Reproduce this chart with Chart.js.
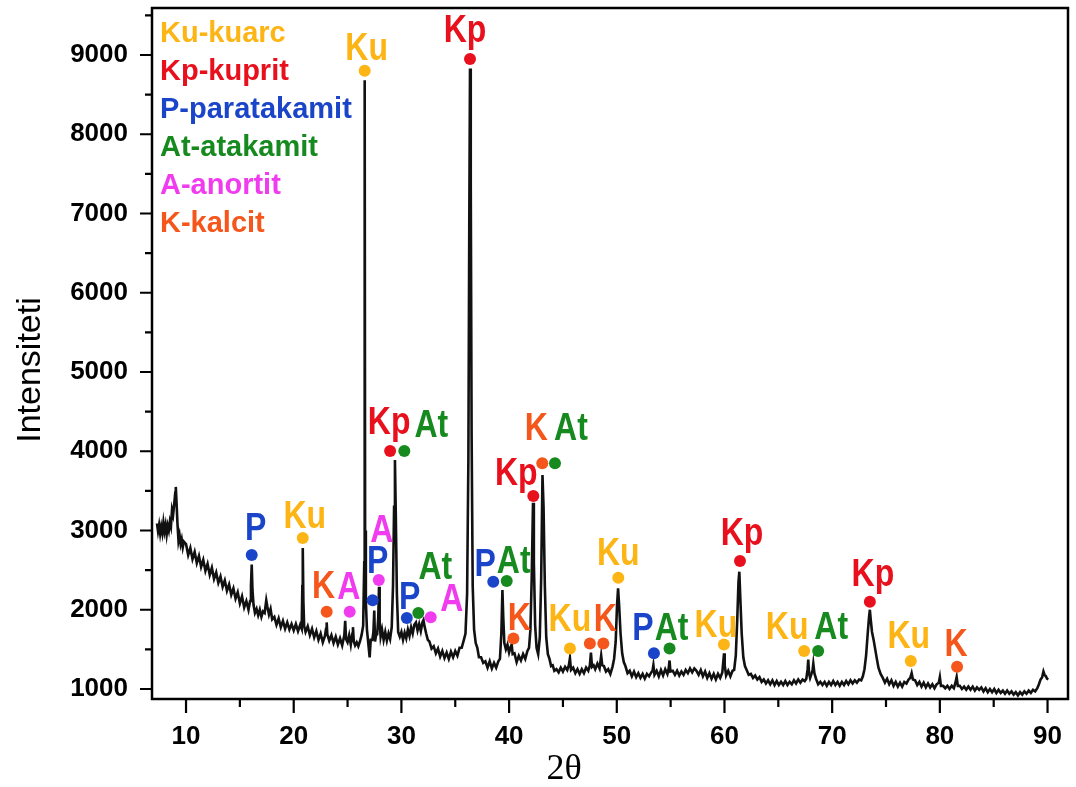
<!DOCTYPE html>
<html>
<head>
<meta charset="utf-8">
<script src="https://cdn.jsdelivr.net/npm/chart.js@4.4.1/dist/chart.umd.min.js"></script>
<style>
  html, body { margin: 0; padding: 0; background: #fff; }
  #wrap { width: 1076px; height: 787px; }
</style>
</head>
<body>
<div id="wrap"><canvas id="xrd" width="1076" height="787"></canvas></div>
<script>
// measured pattern: [2theta, intensity]
const scan = [
  [7.3,3090],[7.4,2990],[7.5,3070],[7.6,2960],[7.7,3050],[7.8,2970],[7.9,3100],[8.0,2990],[8.1,3070],[8.2,2950],
  [8.3,3060],[8.4,3000],[8.5,3110],[8.6,3050],[8.7,3260],[8.8,3200],[8.9,3330],[9.0,3480],[9.05,3550],[9.12,3350],
  [9.2,3100],[9.3,2870],[9.4,2940],[9.5,2830],[9.6,2890],[9.7,2790],[9.8,2860],
  [10.0,2830],[10.2,2690],[10.4,2780],[10.6,2640],[10.8,2730],[11.0,2590],[11.2,2680],[11.4,2540],[11.6,2630],
  [11.8,2490],[12.0,2580],[12.2,2440],[12.4,2530],[12.6,2390],[12.8,2470],[13.0,2340],[13.2,2420],[13.4,2290],
  [13.6,2370],[13.8,2240],[14.0,2320],[14.2,2190],[14.4,2270],[14.6,2140],[14.8,2220],[15.0,2080],[15.2,2170],
  [15.4,2030],[15.6,2110],[15.8,2000],[15.95,2110],[16.03,2300],[16.1,2570],[16.17,2250],[16.27,2060],[16.4,1960],
  [16.55,2010],[16.7,1930],[16.85,2000],[17.0,1910],[17.15,1980],[17.3,1960],[17.45,2120],[17.55,2040],[17.7,1940],
  [17.85,2010],[18.0,1880],[18.2,1910],[18.4,1810],[18.6,1890],[18.8,1780],[19.0,1860],[19.2,1760],[19.4,1840],
  [19.6,1750],[19.8,1820],[20.0,1740],[20.2,1820],[20.4,1730],[20.6,1810],[20.74,1760],[20.8,2300],[20.84,2780],
  [20.9,2100],[20.97,1790],[21.1,1720],[21.3,1790],[21.5,1680],[21.7,1760],[21.9,1650],[22.1,1730],[22.3,1620],
  [22.5,1700],[22.7,1590],[22.9,1670],[23.0,1760],[23.06,1840],[23.12,1690],[23.3,1610],[23.5,1680],[23.7,1580],
  [23.9,1660],[24.1,1560],[24.3,1640],[24.5,1550],[24.7,1680],[24.78,1860],[24.86,1630],[25.0,1590],[25.15,1680],
  [25.3,1560],[25.45,1700],[25.5,1780],[25.58,1600],[25.7,1550],[25.85,1590],[26.0,1540],[26.15,1600],[26.3,1680],
  [26.45,1800],[26.55,2600],[26.59,8680],[26.63,3000],[26.7,2100],[26.8,1750],[26.95,1540],[27.05,1400],[27.15,1620],
  [27.3,1620],[27.4,1720],[27.48,1990],[27.55,1600],[27.65,1680],[27.75,1690],[27.85,1900],[27.92,2290],[27.98,1850],
  [28.07,1660],[28.2,1750],[28.35,1620],[28.5,1720],[28.65,1610],[28.8,1700],[28.95,1630],[29.1,1780],[29.22,2300],
  [29.32,3300],[29.4,3890],[29.48,3200],[29.58,2200],[29.7,1720],[29.85,1660],[30.0,1720],[30.15,1620],[30.3,1710],
  [30.45,1640],[30.6,1750],[30.75,1670],[30.9,1780],[31.05,1700],[31.2,1810],[31.35,1840],[31.5,1740],[31.65,1820],
  [31.8,1730],[31.95,1840],[32.05,1870],[32.15,1790],[32.3,1700],[32.45,1620],[32.6,1600],[32.8,1510],[33.0,1540],
  [33.2,1450],[33.4,1510],[33.6,1410],[33.8,1480],[34.0,1390],[34.2,1460],[34.4,1380],[34.6,1470],[34.8,1400],
  [35.0,1480],[35.2,1420],[35.4,1520],[35.6,1520],[35.8,1620],[35.95,1700],[36.1,2200],[36.22,3900],[36.3,6800],
  [36.37,8830],[36.44,7400],[36.52,4200],[36.62,2300],[36.75,1750],[36.9,1580],[37.05,1520],[37.2,1400],[37.4,1400],
  [37.6,1330],[37.8,1350],[38.0,1270],[38.2,1350],[38.4,1260],[38.6,1330],[38.8,1270],[39.0,1350],[39.15,1380],
  [39.28,1700],[39.38,2250],[39.46,1900],[39.56,1580],[39.7,1500],[39.85,1560],[40.0,1460],[40.15,1530],[40.24,1560],
  [40.33,1440],[40.5,1450],[40.7,1340],[40.9,1420],[41.1,1360],[41.3,1440],[41.5,1380],[41.7,1480],[41.85,1520],
  [41.98,1750],[42.1,2400],[42.22,3350],[42.3,2600],[42.42,1800],[42.55,1520],[42.7,1440],[42.85,1650],[42.98,2400],
  [43.1,3700],[43.2,3300],[43.32,2300],[43.45,1650],[43.6,1440],[43.75,1380],[43.9,1290],[44.05,1300],[44.2,1230],
  [44.4,1250],[44.6,1210],[44.8,1270],[45.0,1220],[45.2,1280],[45.4,1240],[45.55,1300],[45.65,1390],[45.75,1240],
  [45.95,1270],[46.15,1200],[46.35,1250],[46.55,1190],[46.75,1250],[46.95,1200],[47.15,1270],[47.35,1230],[47.5,1300],
  [47.6,1460],[47.7,1280],[47.85,1300],[48.0,1250],[48.2,1320],[48.4,1260],[48.55,1420],[48.65,1300],[48.8,1290],
  [49.0,1220],[49.2,1250],[49.4,1190],[49.6,1280],[49.75,1380],[49.9,1600],[50.02,2050],[50.12,2270],[50.22,2050],
  [50.35,1700],[50.5,1450],[50.65,1340],[50.8,1290],[51.0,1200],[51.2,1230],[51.4,1160],[51.6,1220],[51.8,1150],
  [52.0,1200],[52.2,1140],[52.4,1190],[52.6,1130],[52.8,1190],[53.0,1160],[53.2,1210],[53.32,1230],[53.4,1300],
  [53.5,1180],[53.7,1230],[53.9,1160],[54.1,1240],[54.3,1170],[54.5,1250],[54.7,1190],[54.82,1260],[54.9,1360],
  [54.98,1220],[55.2,1230],[55.4,1180],[55.6,1230],[55.8,1170],[56.0,1220],[56.2,1180],[56.4,1240],[56.6,1200],
  [56.8,1260],[57.0,1210],[57.2,1260],[57.4,1230],[57.6,1180],[57.8,1240],[58.0,1160],[58.2,1220],[58.4,1140],
  [58.6,1200],[58.8,1130],[59.0,1190],[59.2,1120],[59.4,1190],[59.6,1140],[59.8,1210],[59.9,1360],[59.96,1450],
  [60.02,1300],[60.15,1170],[60.35,1230],[60.55,1160],[60.75,1230],[60.9,1240],[61.05,1420],[61.18,1850],[61.3,2350],
  [61.38,2480],[61.47,2150],[61.6,1700],[61.75,1400],[61.9,1290],[62.06,1240],[62.25,1180],[62.45,1190],[62.65,1140],
  [62.85,1170],[63.05,1120],[63.25,1150],[63.45,1090],[63.65,1120],[63.85,1070],[64.05,1110],[64.25,1060],[64.45,1110],
  [64.65,1050],[64.85,1100],[65.05,1050],[65.25,1090],[65.45,1050],[65.65,1100],[65.85,1050],[66.05,1090],[66.25,1060],
  [66.45,1110],[66.65,1070],[66.85,1120],[67.05,1080],[67.25,1120],[67.45,1100],[67.6,1130],[67.72,1250],[67.78,1370],
  [67.85,1200],[67.95,1140],[68.05,1180],[68.18,1240],[68.25,1320],[68.35,1200],[68.5,1130],[68.7,1060],[68.9,1090],
  [69.1,1050],[69.3,1090],[69.5,1040],[69.7,1090],[69.9,1050],[70.1,1100],[70.3,1050],[70.5,1090],[70.7,1040],
  [70.9,1090],[71.1,1050],[71.3,1100],[71.5,1060],[71.7,1110],[71.9,1070],[72.1,1110],[72.3,1080],[72.5,1120],
  [72.7,1110],[72.85,1160],[73.0,1250],[73.15,1420],[73.3,1700],[73.42,1900],[73.5,2000],[73.58,1880],[73.7,1720],
  [73.85,1620],[74.0,1500],[74.15,1380],[74.3,1270],[74.5,1190],[74.7,1140],[74.9,1080],[75.1,1130],[75.3,1060],
  [75.5,1110],[75.7,1040],[75.9,1090],[76.1,1030],[76.3,1080],[76.5,1030],[76.7,1090],[76.9,1070],[77.1,1120],
  [77.25,1140],[77.38,1200],[77.5,1120],[77.7,1110],[77.9,1050],[78.1,1090],[78.3,1030],[78.5,1080],[78.7,1020],
  [78.9,1070],[79.1,1020],[79.3,1060],[79.5,1010],[79.7,1060],[79.9,1080],[80.0,1150],[80.1,1040],[80.3,1040],
  [80.5,1010],[80.7,1040],[80.9,1000],[81.1,1040],[81.3,1010],[81.45,1080],[81.56,1150],[81.67,1040],[81.85,1040],
  [82.05,1000],[82.25,1030],[82.45,990],[82.65,1030],[82.85,990],[83.05,1030],[83.25,980],[83.45,1020],[83.65,990],
  [83.85,1020],[84.05,970],[84.25,1010],[84.45,960],[84.65,1000],[84.85,960],[85.05,1000],[85.25,950],[85.45,990],
  [85.65,950],[85.85,980],[86.05,940],[86.25,980],[86.45,940],[86.65,970],[86.85,930],[87.05,960],[87.25,920],
  [87.45,960],[87.65,930],[87.85,970],[88.05,940],[88.25,980],[88.45,950],[88.65,990],[88.85,970],[89.05,1010],
  [89.2,1060],[89.35,1120],[89.5,1150],[89.62,1220],[89.72,1180],[89.85,1160],[89.95,1130],[90.07,1120]
];

// phase markers (2theta, intensity of the dot)
const kuTheta = [20.84, 26.59, 45.65, 50.14, 59.95, 67.4, 77.3];
const kuInt   = [2905, 8800, 1512, 2405, 1563, 1479, 1352];
const kpTheta = [28.95, 36.37, 42.25, 61.44, 73.5];
const kpInt   = [4002, 8950, 3435, 2614, 2100];
const pTheta  = [16.1, 27.33, 30.5, 38.53, 53.45];
const pInt    = [2690, 2120, 1895, 2353, 1450];
const atTheta = [30.27, 31.57, 39.78, 44.26, 54.9, 68.7];
const atInt   = [4002, 1958, 2362, 3850, 1512, 1479];
const aTheta  = [25.2, 27.9, 32.72];
const aInt    = [1975, 2375, 1907];
const kTheta  = [23.06, 40.4, 43.08, 47.5, 48.75, 81.6];
const kInt    = [1975, 1638, 3850, 1575, 1575, 1282];

const phaseCodes  = ["Ku", "Kp", "P", "At", "A", "K"];
const phaseNames  = ["Ku-kuarc", "Kp-kuprit", "P-paratakamit", "At-atakamit", "A-anortit", "K-kalcit"];
const phaseColors = ["#FDB515", "#E8101C", "#1B45C9", "#168A1E", "#F03CEE", "#F4561B"];
const phaseTheta  = [kuTheta, kpTheta, pTheta, atTheta, aTheta, kTheta];
const phaseInt    = [kuInt, kpInt, pInt, atInt, aInt, kInt];

const yTicks = [1000, 2000, 3000, 4000, 5000, 6000, 7000, 8000, 9000];
const xTicks = [10, 20, 30, 40, 50, 60, 70, 80, 90];

// label centre offsets from each dot, px (null = no label)
const labelShift = [
  [[2,-23],[2,-24],[0,-31],[0,-26],[-8,-21],[-17,-25],[-2,-26]],
  [[-1,-30],[-5,-30],[-17,-24],[2,-29],[3,-29]],
  [[4,-28],[5,-40],[3,-22],[-8,-19],[-11,-27]],
  [[27,-27],[17,-47],[7,-21],[16,-36],[2,-22],[13,-25]],
  [[-1,-26],[3,-51],[21,-19]],
  [[-3,-27],[6,-22],[-6,-36],null,[2,-26],[-1,-24]]
];

const FONT = '"Liberation Sans", Arial, sans-serif';

const decor = {
  id: 'decor',
  afterDatasetsDraw(chart) {
    const ctx = chart.ctx;
    ctx.save();
    // peak labels
    ctx.textAlign = 'center';
    ctx.textBaseline = 'alphabetic';
    ctx.font = 'bold 32px ' + FONT;
    phaseCodes.forEach((code, i) => {
      const meta = chart.getDatasetMeta(i);
      ctx.fillStyle = phaseColors[i];
      meta.data.forEach((pt, j) => {
        const s = labelShift[i][j];
        if (!s) return;
        ctx.save();
        ctx.translate(pt.x + s[0], pt.y + s[1]);
        ctx.scale(1, 1.2);
        ctx.fillText(code, 0, 11);
        ctx.restore();
      });
    });
    // legend text
    ctx.textAlign = 'left';
    ctx.font = 'bold 29px ' + FONT;
    phaseNames.forEach((name, i) => {
      ctx.fillStyle = phaseColors[i];
      ctx.fillText(name, chart.chartArea.left + 8, chart.chartArea.top + 34 + i * 38);
    });
    ctx.restore();
  },
  afterDraw(chart) {
    const { ctx, chartArea: a, scales: { x, y } } = chart;
    ctx.save();
    ctx.strokeStyle = '#000';
    ctx.lineWidth = 2.5;
    ctx.strokeRect(a.left, a.top, a.right - a.left, a.bottom - a.top);
    ctx.lineWidth = 2.2;
    ctx.beginPath();
    for (let v = 1000; v <= 9500; v += 500) {
      const py = y.getPixelForValue(v);
      const len = v % 1000 === 0 ? 12 : 7;
      ctx.moveTo(a.left, py);
      ctx.lineTo(a.left - len, py);
    }
    for (let v = 10; v <= 90; v += 5) {
      const px = x.getPixelForValue(v);
      const len = v % 10 === 0 ? 14 : 8;
      ctx.moveTo(px, a.bottom);
      ctx.lineTo(px, a.bottom + len);
    }
    ctx.stroke();

    // axis titles
    ctx.fillStyle = '#000';
    ctx.textAlign = 'center';
    ctx.textBaseline = 'middle';
    ctx.font = '36px "Liberation Serif", "Times New Roman", serif';
    ctx.fillText('2\u03B8', 564, 770);
    ctx.save();
    ctx.translate(31, 370);
    ctx.rotate(-Math.PI / 2);
    ctx.font = '34px ' + FONT;
    ctx.fillText('Intensiteti', 0, 0);
    ctx.restore();
    ctx.restore();
  }
};

const datasets = phaseCodes.map((code, i) => ({
  label: phaseNames[i],
  data: phaseTheta[i].map((t, j) => ({ x: t, y: phaseInt[i][j] })),
  pointRadius: 6,
  pointBackgroundColor: phaseColors[i],
  pointBorderWidth: 0,
  showLine: false,
  order: 0
}));
datasets.push({
  label: 'scan',
  data: scan.map(p => ({ x: p[0], y: p[1] })),
  showLine: true,
  borderColor: '#111',
  borderWidth: 2.6,
  pointRadius: 0,
  tension: 0,
  order: 10
});

const tickFont = { family: FONT, size: 26, weight: 'bold' };

new Chart(document.getElementById('xrd'), {
  type: 'scatter',
  data: { datasets },
  options: {
    responsive: false,
    animation: false,
    devicePixelRatio: 1,
    layout: { padding: { top: 8, right: 8, left: 0, bottom: 0 } },
    plugins: { legend: { display: false }, tooltip: { enabled: false } },
    scales: {
      x: {
        type: 'linear',
        min: 6.84,
        max: 91.9,
        afterFit: s => { s.height = 88; s.paddingLeft = 0; s.paddingRight = 0; },
        afterBuildTicks: s => { s.ticks = xTicks.map(v => ({ value: v })); },
        grid: { display: false, drawTicks: false },
        border: { display: false },
        ticks: {
          padding: 22, color: '#000', font: tickFont, maxRotation: 0, autoSkip: false,
          callback: v => String(v)
        }
      },
      y: {
        type: 'linear',
        min: 874,
        max: 9593,
        afterFit: s => { s.width = 152; s.paddingTop = 0; s.paddingBottom = 0; },
        afterBuildTicks: s => { s.ticks = yTicks.map(v => ({ value: v })); },
        grid: { display: false, drawTicks: false },
        border: { display: false },
        ticks: {
          padding: 24, color: '#000', font: tickFont, autoSkip: false,
          callback: v => String(v)
        }
      }
    }
  },
  plugins: [decor]
});
</script>
</body>
</html>
